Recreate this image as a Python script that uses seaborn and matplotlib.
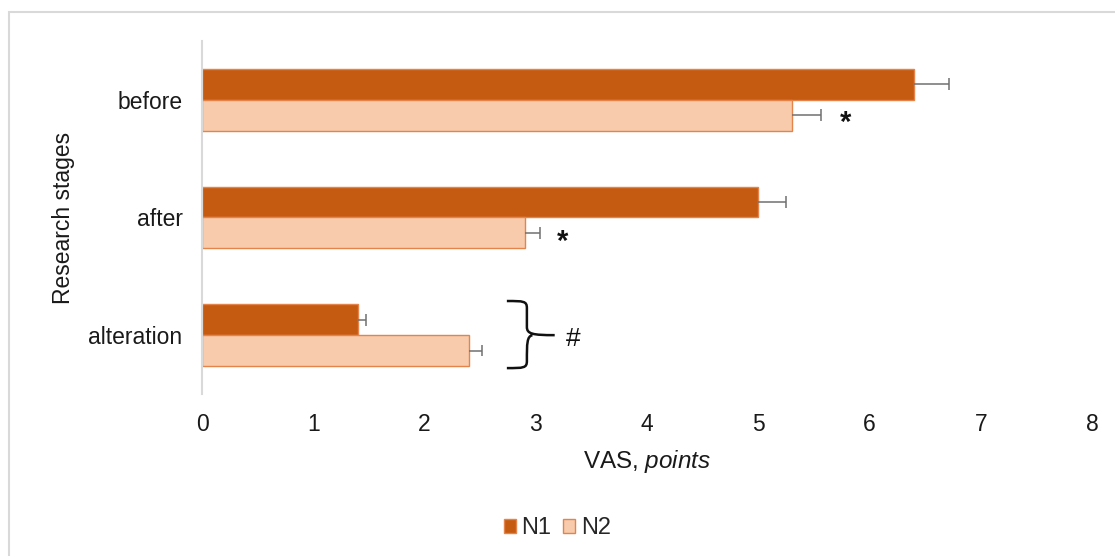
import matplotlib
matplotlib.use("Agg")
import matplotlib.pyplot as plt
from matplotlib.path import Path
from matplotlib.patches import PathPatch, Rectangle
import seaborn as sns
import pandas as pd
import numpy as np

# Data
stages = ["before", "after", "alteration"]
groups = ["N1", "N2"]
n1_values = [6.4, 5.0, 1.4]
n2_values = [5.3, 2.9, 2.4]
n1_errors = [0.31, 0.25, 0.07]
n2_errors = [0.26, 0.14, 0.12]
x_ticks = [0, 1, 2, 3, 4, 5, 6, 7, 8]

sns.set_theme(style="white")
plt.rcParams["font.family"] = ["Liberation Sans", "DejaVu Sans"]
plt.rcParams["mathtext.fontset"] = "custom"
plt.rcParams["mathtext.rm"] = "Liberation Sans"
plt.rcParams["mathtext.it"] = "Liberation Sans:italic"

df = pd.DataFrame({
    "stage": stages * 2,
    "group": [groups[0]] * 3 + [groups[1]] * 3,
    "value": n1_values + n2_values,
})
errors = {groups[0]: n1_errors, groups[1]: n2_errors}

fig = plt.figure(figsize=(11.15, 5.56), dpi=100)
ax = fig.add_axes([0.1812, 0.2914, 0.7982, 0.6349])

palette = {"N1": "#C55A11", "N2": "#F8CBAD"}
sns.barplot(data=df, y="stage", x="value", hue="group", order=stages,
            hue_order=groups, palette=palette, orient="h", width=0.525,
            saturation=1, errorbar=None, ax=ax, edgecolor="#E5844A",
            linewidth=1.0, legend=True)

# Plus-direction error bars on every bar, positioned from the drawn patches
for container, g in zip(ax.containers, groups):
    for bar, err in zip(container, errors[g]):
        yc = bar.get_y() + bar.get_height() / 2
        xv = bar.get_width()
        cap = bar.get_height() * 0.19
        ax.plot([xv, xv + err], [yc, yc], color="#707070", lw=1.1,
                solid_capstyle="butt", zorder=3)
        ax.plot([xv + err, xv + err], [yc - cap, yc + cap], color="#707070",
                lw=1.1, solid_capstyle="butt", zorder=3)

ax.set_xlim(0, 8)
ax.set_ylim(2.5, -0.5)
ax.set_xticks(x_ticks)
ax.set_xticklabels([str(t) for t in x_ticks])
ax.tick_params(axis="both", length=0, labelsize=16.5, colors="#1a1a1a")
ax.tick_params(axis="x", pad=14)
ax.tick_params(axis="y", pad=14)

for side in ["top", "right", "bottom"]:
    ax.spines[side].set_visible(False)
ax.spines["left"].set_color("#D9D9D9")
ax.spines["left"].set_linewidth(1.5)

ax.set_xlabel("VAS, $\\mathit{points}$", fontsize=17.5, color="#1a1a1a",
              labelpad=8)
ax.set_ylabel("Research stages", fontsize=16.5, color="#1a1a1a", labelpad=10)

# Significance marks
ax.text(5.78, 0.2, "*", fontsize=21, fontweight="bold", ha="center",
        va="center", color="#111111")
ax.text(3.245, 1.21, "*", fontsize=21, fontweight="bold", ha="center",
        va="center", color="#111111")

# Curly brace grouping the alteration bars
xl, xv, xr = 2.74, 2.92, 3.17
yt, ym, yb = 1.71, 2.0, 2.28
verts = [
    (xl, yt), (xv - 0.03, yt), (xv, yt), (xv, yt + 0.06),
    (xv, ym - 0.07),
    (xv, ym - 0.01), (xv + 0.05, ym), (xr, ym),
    (xv + 0.05, ym), (xv, ym + 0.01), (xv, ym + 0.07),
    (xv, yb - 0.06),
    (xv, yb), (xv - 0.03, yb), (xl, yb),
]
codes = [Path.MOVETO, Path.CURVE4, Path.CURVE4, Path.CURVE4,
         Path.LINETO,
         Path.CURVE4, Path.CURVE4, Path.CURVE4,
         Path.MOVETO, Path.CURVE4, Path.CURVE4,
         Path.LINETO,
         Path.CURVE4, Path.CURVE4, Path.CURVE4]
ax.add_patch(PathPatch(Path(verts, codes), fill=False, lw=1.8,
                       edgecolor="#111111", clip_on=False))
ax.text(3.34, 2.03, "#", fontsize=19, ha="center", va="center", color="#111111")

# Legend below the plot
leg = ax.get_legend()
leg.remove()
handles, labels = ax.get_legend_handles_labels()
fig.legend(handles, labels, loc="center", bbox_to_anchor=(0.5, 0.05),
           ncol=2, frameon=False, fontsize=17, handlelength=0.5,
           handleheight=0.5, handletextpad=0.25, columnspacing=0.5)

# Chart frame
fig.patches.append(Rectangle((9 / 1115, -0.1), 1.2, 0.978 + 0.1,
                             transform=fig.transFigure, fill=False,
                             edgecolor="#D9D9D9", linewidth=1.5))

fig.savefig("out.png", dpi=100, facecolor="white")
